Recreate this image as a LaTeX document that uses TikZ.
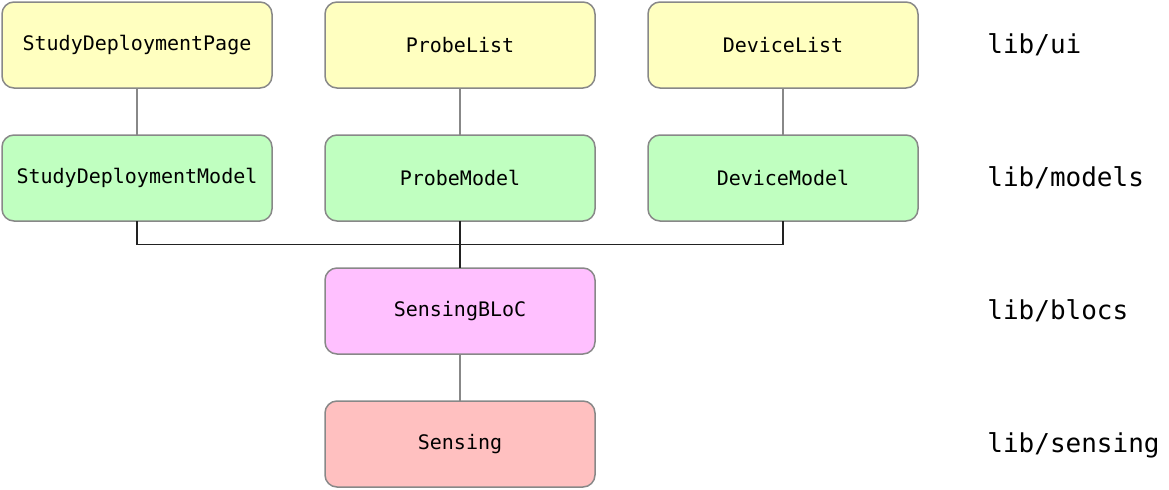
\documentclass[tikz,border=0pt]{standalone}
\usepackage{fontspec}
\setmonofont{DejaVu Sans Mono}
\usetikzlibrary{positioning}
\usetikzlibrary{calc}
\definecolor{uiyellow}{HTML}{FFFFC0}
\definecolor{modelgreen}{HTML}{C0FFC0}
\definecolor{blocpink}{HTML}{FFC0FF}
\definecolor{sensered}{HTML}{FFC0C0}
\definecolor{boxgray}{HTML}{888888}
\definecolor{linedark}{HTML}{222222}
\tikzset {
  x=0.5pt, y=-0.5pt,
  node distance={23.5pt and 26.5pt},
  % rounded component box
  main/.style = {draw=boxgray, line width=0.75pt, rounded corners=6pt,
    minimum width=135pt, minimum height=43pt, inner sep=0pt, outer sep=0pt,
    font=\ttfamily\fontsize{10}{12}\selectfont},
  % one colour per layer
  ui/.style={main, fill=uiyellow},
  model/.style={main, fill=modelgreen},
  bloc/.style={main, fill=blocpink},
  sensing/.style={main, fill=sensered},
  % layer names on the right
  layer/.style={anchor=west, inner sep=0pt, font=\ttfamily\fontsize{13}{15}\selectfont},
  uses/.style={boxgray, line width=0.75pt},
  bus/.style={linedark, line width=0.75pt},
}
\begin{document}
\begin{tikzpicture}
        \useasboundingbox (0,0) rectangle (1169,489);
        \node[ui] (page) at (137,45) {StudyDeploymentPage};
        \node[ui] (probes) [right=of page] {ProbeList};
        \node[ui] (devices) [right=of probes] {DeviceList};
        \node[model] (sdmodel) [below=of page] {StudyDeploymentModel};
        \node[model] (probemodel) [below=of probes] {ProbeModel};
        \node[model] (devmodel) [below=of devices] {DeviceModel};
        \node[bloc] (blocnode) [below=of probemodel] {SensingBLoC};
        \node[sensing] (sensenode) [below=of blocnode] {Sensing};

        \node[layer] (libui) at (987,45) {lib/ui};
        \node[layer] (libmodels) at (987,178) {lib/models};
        \node[layer] (libblocs) at (987,311) {lib/blocs};
        \node[layer] (libsensing) at (987,445) {lib/sensing};

        \coordinate (junction) at ($(probemodel.south)!0.5!(blocnode.north)$);

        \draw [uses] (page) -- (sdmodel);
        \draw [uses] (probes) -- (probemodel);
        \draw [uses] (devices) -- (devmodel);
        \draw [bus] (sdmodel.south) |- (junction);
        \draw [bus] (devmodel.south) |- (junction);
        \draw [bus] (probemodel.south) -- (blocnode.north);
        \draw [uses] (blocnode) -- (sensenode);
      \end{tikzpicture}
\end{document}
